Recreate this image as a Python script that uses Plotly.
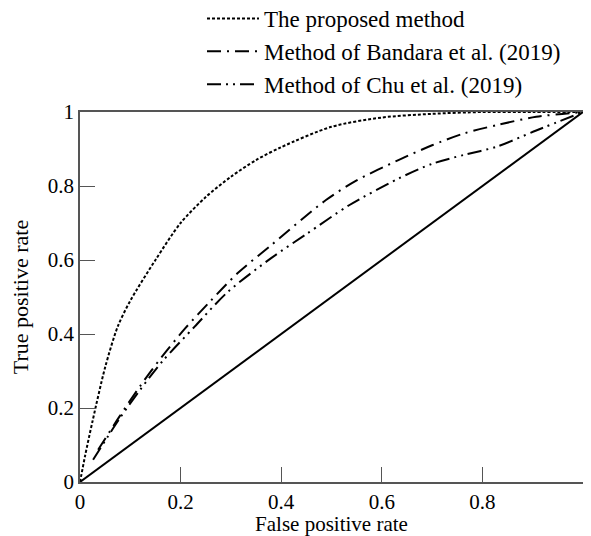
import plotly.graph_objects as go

# Proposed method ROC
prop_x = [0, 0.01, 0.025, 0.05, 0.075, 0.1, 0.15, 0.2, 0.25, 0.3, 0.35, 0.4, 0.5, 0.6, 0.7, 0.8, 0.9, 1.0]
prop_y = [0, 0.07, 0.165, 0.31, 0.42, 0.49, 0.60, 0.70, 0.77, 0.825, 0.87, 0.905, 0.96, 0.985, 0.995, 1.0, 1.0, 1.0]

# Bandara et al. (2019)
band_x = [0.036, 0.078, 0.12, 0.163, 0.209, 0.26, 0.313, 0.38, 0.489, 0.55, 0.633, 0.7, 0.763, 0.83, 0.907, 1.0]
band_y = [0.087, 0.176, 0.26, 0.339, 0.415, 0.49, 0.564, 0.64, 0.762, 0.815, 0.87, 0.91, 0.942, 0.965, 0.987, 1.0]

# Chu et al. (2019)
chu_x = [0.026, 0.078, 0.12, 0.163, 0.228, 0.294, 0.38, 0.45, 0.535, 0.633, 0.7, 0.763, 0.828, 0.907, 1.0]
chu_y = [0.06, 0.17, 0.25, 0.325, 0.42, 0.514, 0.605, 0.67, 0.748, 0.82, 0.86, 0.884, 0.906, 0.95, 1.0]

# Chance line
diag_x = [0, 1]
diag_y = [0, 1]

x_ticks = [0, 0.2, 0.4, 0.6, 0.8]
x_labels = ["0", "0.2", "0.4", "0.6", "0.8"]
y_ticks = [0, 0.2, 0.4, 0.6, 0.8, 1.0]
y_labels = ["0", "0.2", "0.4", "0.6", "0.8", "1"]

FONT = "Liberation Serif, Times New Roman, serif"

W, H = 575, 528
ML, MR, MT, MB = 72, 0, 104, 54
PH = H - MT - MB
PW = W - ML - MR

fig = go.Figure()
fig.add_trace(go.Scatter(x=prop_x, y=prop_y, mode="lines", name="The proposed method",
                         line=dict(color="black", width=2, dash="3px,2px", shape="spline", smoothing=0.8)))
fig.add_trace(go.Scatter(x=band_x, y=band_y, mode="lines", name="Method of Bandara et al. (2019)",
                         line=dict(color="black", width=2, dash="14px,6px,2px,6px", shape="spline", smoothing=0.8)))
fig.add_trace(go.Scatter(x=chu_x, y=chu_y, mode="lines", name="Method of Chu et al. (2019)",
                         line=dict(color="black", width=2, dash="14px,5px,2px,5px,2px,5px", shape="spline", smoothing=0.8)))
fig.add_trace(go.Scatter(x=diag_x, y=diag_y, mode="lines", showlegend=False,
                         line=dict(color="black", width=2)))

fig.update_layout(
    width=W, height=H,
    margin=dict(l=ML, r=MR, t=MT, b=MB, autoexpand=False),
    paper_bgcolor="white", plot_bgcolor="white",
    font=dict(family=FONT, size=21, color="black"),
    legend=dict(x=(194 - ML) / PW, xref="paper", y=1 + (MT + 11) / PH, yref="paper",
                xanchor="left", yanchor="top", bgcolor="rgba(0,0,0,0)",
                font=dict(size=23), itemwidth=52, tracegroupgap=0),
    xaxis=dict(range=[0, 1], tickvals=x_ticks, ticktext=x_labels, ticks="inside", ticklen=15,
               tickcolor="#555", showline=True, linecolor="#555", linewidth=1.5, mirror=True,
               showgrid=False, zeroline=False,
               title=dict(text="False positive rate", standoff=2, font=dict(size=21))),
    yaxis=dict(range=[0, 1], tickvals=y_ticks, ticktext=y_labels, ticks="inside", ticklen=15,
               tickcolor="#555", showline=True, linecolor="#555", linewidth=1.5,
               showgrid=False, zeroline=False,
               title=dict(text="True positive rate", standoff=14, font=dict(size=22))),
    showlegend=True,
)

fig.write_html("out.html")
